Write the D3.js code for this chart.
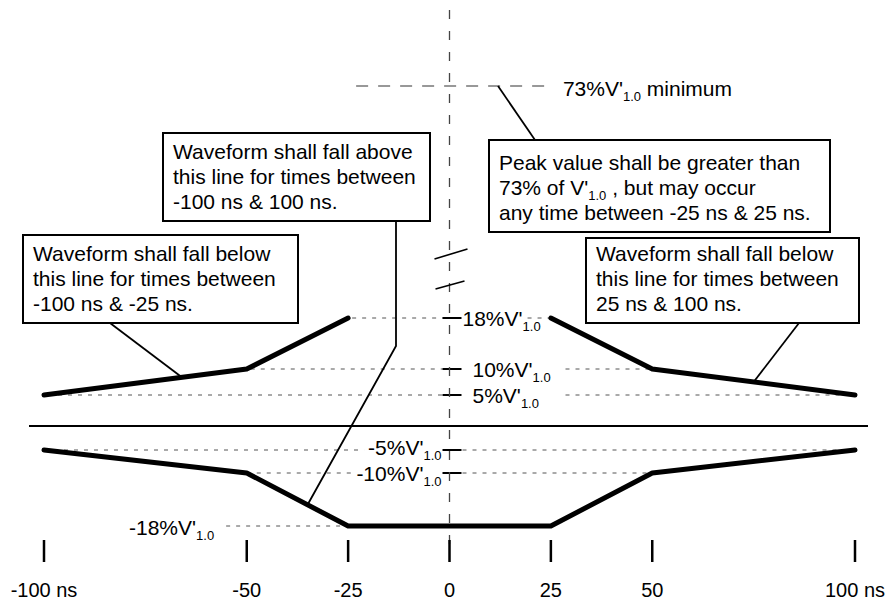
<html>
<head>
  <meta charset="utf-8">
  <title>Waveform mask</title>
  <script src="https://d3js.org/d3.v7.min.js"></script>
  <style>
    body { margin: 0; background: #fff; }
    text { font-family: "Liberation Sans", Arial, sans-serif; white-space: pre; }
  </style>
</head>
<body>
<div id="chart"></div>
<script>
// time ticks along the bottom (ns)
const timeTicks = [-100, -50, -25, 0, 25, 50, 100];
const tickLabels = ["-100 ns", "-50", "-25", "0", "25", "50", "100 ns"];

// mask limits, in % of V'1.0
const upperLeftMask = [{t: -100, v: 5}, {t: -50, v: 10}, {t: -25, v: 18}];
const upperRightMask = [{t: 25, v: 18}, {t: 50, v: 10}, {t: 100, v: 5}];
const lowerMask = [{t: -100, v: -5}, {t: -50, v: -10}, {t: -25, v: -18},
                   {t: 25, v: -18}, {t: 50, v: -10}, {t: 100, v: -5}];
const levels = [18, 10, 5, -5, -10, -18];
const peakLevel = 73;
const peakWindow = [-25, 25];

// callout texts, _{..} = subscript
const aboveNote = ["Waveform shall fall above", "this line for times between", "-100 ns & 100 ns."];
const peakNote = ["Peak value shall be greater than", "73% of V'_{1.0} , but may occur", "any time between -25 ns & 25 ns."];
const leftNote = ["Waveform shall fall below", "this line for times between", "-100 ns & -25 ns."];
const rightNote = ["Waveform shall fall below", "this line for times between", "25 ns & 100 ns."];

const width = 896, height = 602;

const svg = d3.select("#chart")
    .append("svg")
    .attr("width", width)
    .attr("height", height);

const x = d3.scaleLinear().domain([-100, 100]).range([44, 855]);
// the drawing is not to scale and the axis is broken above 18%
const y = d3.scaleLinear()
    .domain([-18, -10, -5, 0, 5, 10, 18, 73])
    .range([526, 473, 450, 426, 395, 369, 318, 86]);

const x0 = x(0);

// write a string with _{..} subscripts into a text element
function rich(textSel, str) {
  const parts = str.split(/(_\{[^}]*\})/);
  let down = false;
  parts.forEach(function(p) {
    if (!p) return;
    const m = p.match(/^_\{(.*)\}$/);
    if (m) {
      textSel.append("tspan").attr("dy", 5).attr("font-size", 13).text(m[1]);
      down = true;
    } else {
      const ts = textSel.append("tspan").text(p);
      if (down) { ts.attr("dy", -5); down = false; }
    }
  });
  return textSel;
}

// value of a mask polyline at time t
function along(mask, t) {
  for (let i = 0; i < mask.length - 1; i++) {
    const a = mask[i], b = mask[i + 1];
    if (t >= a.t && t <= b.t) {
      return a.v + (b.v - a.v) * (t - a.t) / (b.t - a.t);
    }
  }
  return mask[mask.length - 1].v;
}

const allPts = upperLeftMask.concat(upperRightMask, lowerMask);
function vertex(v, side) {
  return allPts.find(function(d) { return d.v === v && (side < 0 ? d.t < 0 : d.t > 0); });
}

const dotted = svg.append("g")
    .attr("stroke", "#555")
    .attr("stroke-width", 1)
    .attr("stroke-dasharray", "4,6");

// level labels and ticks on the centre axis
const labelG = svg.append("g").attr("font-size", 21).attr("fill", "#000");

levels.forEach(function(v) {
  const yy = y(v);
  const L = vertex(v, -1), R = vertex(v, 1);
  const str = v + "%V'_{1.0}";

  if (v > 0) {
    const lx = v === 18 ? x0 + 13 : x0 + 23;
    const t = rich(labelG.append("text").attr("x", lx).attr("y", yy + 8), str);
    const mainW = t.select("tspan").node().getComputedTextLength();
    dotted.append("line").attr("x1", x(L.t) + 4).attr("x2", x0 - 7).attr("y1", yy).attr("y2", yy);
    const rs = v === 18 ? lx + mainW + 5 : x0 + 116;
    dotted.append("line").attr("x1", rs).attr("x2", x(R.t) - 2).attr("y1", yy).attr("y2", yy);
  } else if (v > -18) {
    const t = rich(labelG.append("text")
        .attr("x", x0 - 8)
        .attr("y", yy + (v === -5 ? 5 : 8))
        .attr("text-anchor", "end"), str);
    const bb = t.node().getBBox();
    dotted.append("line").attr("x1", x(L.t)).attr("x2", bb.x - 4).attr("y1", yy).attr("y2", yy);
    dotted.append("line").attr("x1", x0 + 13).attr("x2", x(R.t) - 2).attr("y1", yy).attr("y2", yy);
  } else {
    const lx = x(L.t) - 134;
    rich(labelG.append("text")
        .attr("x", lx)
        .attr("y", yy + 9)
        .attr("text-anchor", "end"), str);
    dotted.append("line").attr("x1", lx + 12).attr("x2", x(L.t) - 4).attr("y1", yy).attr("y2", yy);
  }

  svg.append("line")
      .attr("x1", x0 - 7).attr("x2", x0 + 12)
      .attr("y1", yy).attr("y2", yy)
      .attr("stroke", "#000").attr("stroke-width", 2);
});

// 73% minimum peak line
svg.append("line")
    .attr("x1", x(peakWindow[0]) + 8).attr("x2", x(peakWindow[1]) - 2)
    .attr("y1", y(peakLevel)).attr("y2", y(peakLevel))
    .attr("stroke", "#333").attr("stroke-width", 1.2)
    .attr("stroke-dasharray", "12,10");
rich(labelG.append("text").attr("x", x(peakWindow[1]) + 12).attr("y", y(peakLevel) + 10),
     peakLevel + "%V'_{1.0} minimum");

// centre (t = 0) dashed axis
svg.append("line")
    .attr("x1", x0).attr("x2", x0)
    .attr("y1", 10).attr("y2", 550)
    .attr("stroke", "#444").attr("stroke-width", 1.3)
    .attr("stroke-dasharray", "9,12");

// axis break marks
svg.append("line").attr("x1", x0 - 15).attr("y1", 259).attr("x2", x0 + 18).attr("y2", 249)
    .attr("stroke", "#000").attr("stroke-width", 1.6);
svg.append("line").attr("x1", x0 - 14).attr("y1", 289).attr("x2", x0 + 15).attr("y2", 281)
    .attr("stroke", "#000").attr("stroke-width", 1.6);

// zero line
svg.append("line")
    .attr("x1", 29).attr("x2", 868)
    .attr("y1", y(0)).attr("y2", y(0))
    .attr("stroke", "#000").attr("stroke-width", 2);

// mask lines
const maskLine = d3.line().x(function(d) { return x(d.t); }).y(function(d) { return y(d.v); });
[upperLeftMask, upperRightMask, lowerMask].forEach(function(m) {
  svg.append("path")
      .attr("d", maskLine(m))
      .attr("fill", "none")
      .attr("stroke", "#000")
      .attr("stroke-width", 5)
      .attr("stroke-linecap", "round")
      .attr("stroke-linejoin", "round");
});

// time axis ticks and labels
svg.append("g").selectAll("line")
    .data(timeTicks)
    .enter().append("line")
    .attr("x1", function(d) { return x(d); }).attr("x2", function(d) { return x(d); })
    .attr("y1", 540).attr("y2", 562)
    .attr("stroke", "#000").attr("stroke-width", 2.5);

svg.append("g").selectAll("text")
    .data(timeTicks)
    .enter().append("text")
    .attr("x", function(d) { return x(d); })
    .attr("y", 597)
    .attr("text-anchor", "middle")
    .attr("font-size", 20)
    .text(function(d, i) { return tickLabels[i]; });

// callout leaders
const leader = d3.line();
function leaderPath(pts) {
  svg.append("path")
      .attr("d", leader(pts))
      .attr("fill", "none")
      .attr("stroke", "#000")
      .attr("stroke-width", 1.8);
}
leaderPath([[110, 323], [x(-66), y(along(upperLeftMask, -66))]]);
leaderPath([[799, 323], [x(75), y(along(upperRightMask, 75))]]);
leaderPath([[396, 221], [396, 346], [x(-35), y(along(lowerMask, -35))]]);
leaderPath([[535, 140], [498, y(peakLevel)]]);

// callout boxes
const boxes = [
  {x: 163, y: 133, w: 267, h: 88, lines: aboveNote},
  {x: 489, y: 140, w: 341, h: 92, lines: peakNote},
  {x: 23, y: 235, w: 275, h: 88, lines: leftNote},
  {x: 586, y: 238, w: 273, h: 85, lines: rightNote}
];
boxes.forEach(function(b) {
  const g = svg.append("g");
  g.append("rect")
      .attr("x", b.x).attr("y", b.y)
      .attr("width", b.w).attr("height", b.h)
      .attr("fill", "#fff")
      .attr("stroke", "#000")
      .attr("stroke-width", 2);
  const base = b.y + b.h - 12 - 25 * (b.lines.length - 1);
  b.lines.forEach(function(s, i) {
    rich(g.append("text")
        .attr("x", b.x + 10)
        .attr("y", base + 25 * i)
        .attr("font-size", 21), s);
  });
});
</script>
</body>
</html>
